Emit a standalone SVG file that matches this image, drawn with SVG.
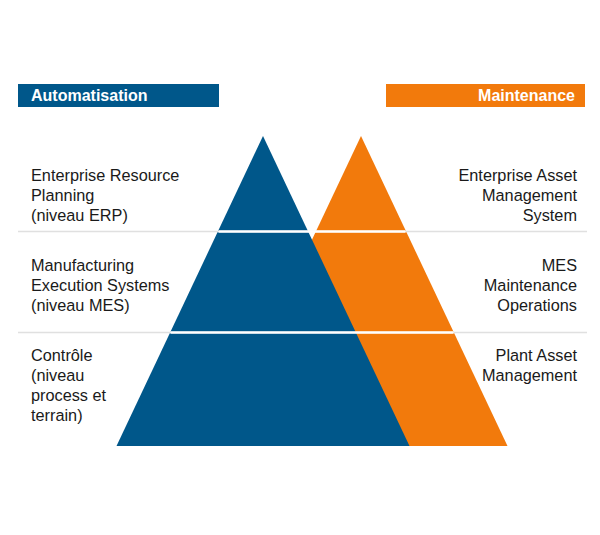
<svg xmlns="http://www.w3.org/2000/svg" width="600" height="535" viewBox="0 0 600 535">
  <style>
    .hdr { font-family: "Liberation Sans", Arial, sans-serif; font-size: 16px; font-weight: bold; fill: #ffffff; }
    .lbl { font-family: "Liberation Sans", Arial, sans-serif; font-size: 16.3px; fill: #1a1a1a; }
    .r { text-anchor: end; }
    .blue { fill: #00578A; }
    .orange { fill: #F27A0C; }
    .sepOuter { stroke: #e0e0e0; stroke-width: 1.5; }
    .sepInner { stroke: #ffffff; stroke-width: 2.5; }
  </style>
  <rect width="600" height="535" fill="#ffffff"/>

  <g id="header-automatisation">
    <rect class="blue" x="18" y="84" width="201" height="23"/>
    <text class="hdr" x="31" y="101">Automatisation</text>
  </g>
  <g id="header-maintenance">
    <rect class="orange" x="386" y="84" width="199" height="23"/>
    <text class="hdr r" x="575" y="101">Maintenance</text>
  </g>

  <g id="pyramid-maintenance">
    <polygon class="orange" points="361,136 507.5,446 214.5,446"/>
  </g>
  <g id="pyramid-automatisation">
    <polygon class="blue" points="263,136 409.5,446 116.5,446"/>
  </g>

  <g id="separators">
    <line class="sepOuter" x1="18" y1="231.5" x2="587" y2="231.5"/>
    <line class="sepInner" x1="218.5" y1="231.5" x2="405.5" y2="231.5"/>
    <line class="sepOuter" x1="18" y1="332.5" x2="587" y2="332.5"/>
    <line class="sepInner" x1="170.5" y1="332.5" x2="453.5" y2="332.5"/>
  </g>

  <g id="level-erp">
    <text class="lbl" x="31" y="181">Enterprise Resource</text>
    <text class="lbl" x="31" y="201">Planning</text>
    <text class="lbl" x="31" y="221">(niveau ERP)</text>
  </g>
  <g id="level-mes">
    <text class="lbl" x="31" y="271">Manufacturing</text>
    <text class="lbl" x="31" y="291">Execution Systems</text>
    <text class="lbl" x="31" y="311">(niveau MES)</text>
  </g>
  <g id="level-controle">
    <text class="lbl" x="31" y="361">Contrôle</text>
    <text class="lbl" x="31" y="381">(niveau</text>
    <text class="lbl" x="31" y="401">process et</text>
    <text class="lbl" x="31" y="421">terrain)</text>
  </g>

  <g id="maint-eam">
    <text class="lbl r" x="577" y="181">Enterprise Asset</text>
    <text class="lbl r" x="577" y="201">Management</text>
    <text class="lbl r" x="577" y="221">System</text>
  </g>
  <g id="maint-mes">
    <text class="lbl r" x="577" y="271">MES</text>
    <text class="lbl r" x="577" y="291">Maintenance</text>
    <text class="lbl r" x="577" y="311">Operations</text>
  </g>
  <g id="maint-pam">
    <text class="lbl r" x="577" y="361">Plant Asset</text>
    <text class="lbl r" x="577" y="381">Management</text>
  </g>
</svg>
